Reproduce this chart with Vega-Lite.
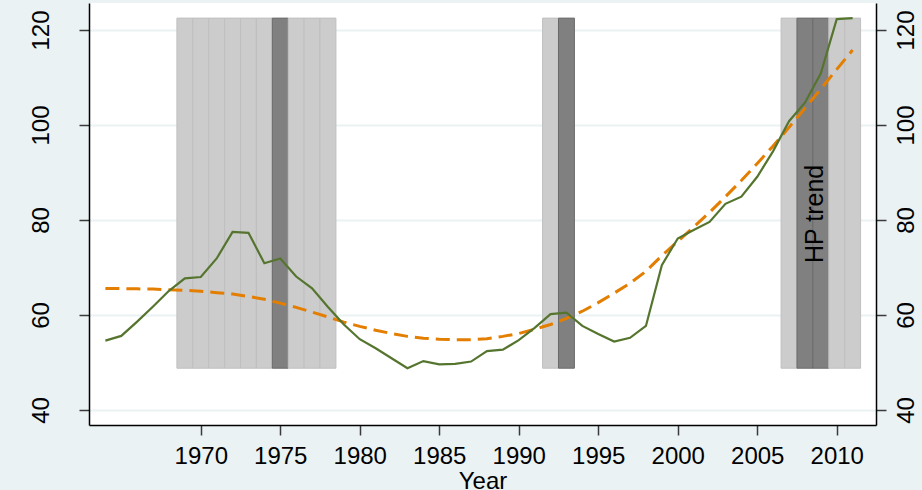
{
  "$schema": "https://vega.github.io/schema/vega-lite/v6.json",
  "width": 787,
  "height": 422,
  "autosize": "none",
  "padding": {"left": 89, "top": 3, "right": 46, "bottom": 65},
  "background": "#eaf2f3",
  "config": {
    "view": {"stroke": null, "fill": "#ffffff"},
    "font": "Liberation Sans",
    "axisX": {
      "format": "d",
      "grid": false, "labelBaseline": "alphabetic", "labelPadding": 28, "tickSize": 10,
      "tickWidth": 1.5, "tickColor": "#3a3a3a", "domainColor": "#000000", "domainWidth": 1.5,
      "labelFontSize": 24, "labelColor": "#000000", "labelFont": "Liberation Sans",
      "titleFontSize": 24, "titleFontWeight": "normal", "titleColor": "#000000", "titleFont": "Liberation Sans",
      "titleBaseline": "alphabetic", "titleY": 63, "titlePadding": 0
    }
  },
  "datasets": {
    "series": [
      {"year": 1964, "actual": 54.6, "trend": 65.6},
      {"year": 1965, "actual": 55.6, "trend": 65.55},
      {"year": 1966, "actual": 58.6, "trend": 65.5},
      {"year": 1967, "actual": 61.8, "trend": 65.45},
      {"year": 1968, "actual": 65.1, "trend": 65.3},
      {"year": 1969, "actual": 67.7, "trend": 65.2},
      {"year": 1970, "actual": 68.0, "trend": 65.0},
      {"year": 1971, "actual": 71.9, "trend": 64.7},
      {"year": 1972, "actual": 77.5, "trend": 64.4},
      {"year": 1973, "actual": 77.3, "trend": 63.9},
      {"year": 1974, "actual": 70.9, "trend": 63.3},
      {"year": 1975, "actual": 71.9, "trend": 62.5},
      {"year": 1976, "actual": 68.1, "trend": 61.6},
      {"year": 1977, "actual": 65.6, "trend": 60.6},
      {"year": 1978, "actual": 61.7, "trend": 59.6},
      {"year": 1979, "actual": 58.0, "trend": 58.5},
      {"year": 1980, "actual": 54.9, "trend": 57.6},
      {"year": 1981, "actual": 53.0, "trend": 56.8},
      {"year": 1982, "actual": 50.9, "trend": 56.1},
      {"year": 1983, "actual": 48.8, "trend": 55.5},
      {"year": 1984, "actual": 50.3, "trend": 55.1},
      {"year": 1985, "actual": 49.6, "trend": 54.9},
      {"year": 1986, "actual": 49.7, "trend": 54.8},
      {"year": 1987, "actual": 50.2, "trend": 54.8},
      {"year": 1988, "actual": 52.4, "trend": 55.0},
      {"year": 1989, "actual": 52.7, "trend": 55.5},
      {"year": 1990, "actual": 54.7, "trend": 56.1},
      {"year": 1991, "actual": 57.3, "trend": 57.0},
      {"year": 1992, "actual": 60.2, "trend": 58.0},
      {"year": 1993, "actual": 60.5, "trend": 59.3},
      {"year": 1994, "actual": 57.7, "trend": 60.8},
      {"year": 1995, "actual": 56.0, "trend": 62.6},
      {"year": 1996, "actual": 54.4, "trend": 64.6},
      {"year": 1997, "actual": 55.2, "trend": 66.7},
      {"year": 1998, "actual": 57.7, "trend": 69.2},
      {"year": 1999, "actual": 70.5, "trend": 72.5},
      {"year": 2000, "actual": 76.1, "trend": 75.5},
      {"year": 2001, "actual": 77.9, "trend": 78.5},
      {"year": 2002, "actual": 79.6, "trend": 81.6},
      {"year": 2003, "actual": 83.4, "trend": 84.9},
      {"year": 2004, "actual": 84.9, "trend": 88.3},
      {"year": 2005, "actual": 89.1, "trend": 91.9},
      {"year": 2006, "actual": 94.5, "trend": 95.6},
      {"year": 2007, "actual": 100.8, "trend": 99.5},
      {"year": 2008, "actual": 104.7, "trend": 103.5},
      {"year": 2009, "actual": 110.9, "trend": 107.6},
      {"year": 2010, "actual": 122.3, "trend": 111.7},
      {"year": 2011, "actual": 122.5, "trend": 115.8}
    ],
    "bands": [
      {"from": 1968.5, "to": 1969.5, "kind": "light"},
      {"from": 1969.5, "to": 1970.5, "kind": "light"},
      {"from": 1970.5, "to": 1971.5, "kind": "light"},
      {"from": 1971.5, "to": 1972.5, "kind": "light"},
      {"from": 1972.5, "to": 1973.5, "kind": "light"},
      {"from": 1973.5, "to": 1974.5, "kind": "light"},
      {"from": 1974.5, "to": 1975.5, "kind": "dark"},
      {"from": 1975.5, "to": 1976.5, "kind": "light"},
      {"from": 1976.5, "to": 1977.5, "kind": "light"},
      {"from": 1977.5, "to": 1978.5, "kind": "light"},
      {"from": 1991.5, "to": 1992.5, "kind": "light"},
      {"from": 1992.5, "to": 1993.5, "kind": "dark"},
      {"from": 2006.5, "to": 2007.5, "kind": "light"},
      {"from": 2007.5, "to": 2008.5, "kind": "dark"},
      {"from": 2008.5, "to": 2009.5, "kind": "dark"},
      {"from": 2009.5, "to": 2010.5, "kind": "light"},
      {"from": 2010.5, "to": 2011.5, "kind": "light"}
    ],
    "notes": [
      {"year": 2009.15, "value": 81.3, "label": "HP trend"}
    ]
  },
  "layer": [
    {
      "data": {"name": "bands"},
      "mark": {"type": "rect", "strokeWidth": 1},
      "encoding": {
        "x": {"field": "from", "type": "quantitative", "scale": {"domain": [1962.97, 2012.47], "nice": false, "zero": false}, "axis": {"title": "Year", "values": [1970, 1975, 1980, 1985, 1990, 1995, 2000, 2005, 2010]}},
        "x2": {"field": "to"},
        "y": {"datum": 48.8, "type": "quantitative", "scale": {"domain": [36.842, 125.684], "nice": false, "zero": false}, "axis": null},
        "y2": {"datum": 122.5},
        "fill": {"field": "kind", "type": "nominal", "scale": {"domain": ["light", "dark"], "range": ["#cccccc", "#808080"]}, "legend": null},
        "stroke": {"field": "kind", "type": "nominal", "scale": {"domain": ["light", "dark"], "range": ["#bfbfbf", "#6a6a6a"]}, "legend": null}
      }
    },
    {
      "data": {"name": "series"},
      "mark": {"type": "line", "color": "#e37e00", "strokeWidth": 3, "strokeDash": [14, 7]},
      "encoding": {
        "x": {"field": "year", "type": "quantitative", "scale": {"domain": [1962.97, 2012.47], "nice": false, "zero": false}, "axis": {"title": "Year", "values": [1970, 1975, 1980, 1985, 1990, 1995, 2000, 2005, 2010]}},
        "y": {
          "field": "trend", "type": "quantitative",
          "scale": {"domain": [36.842, 125.684], "nice": false, "zero": false},
          "axis": {
            "orient": "right", "title": null, "values": [40, 60, 80, 100, 120], "grid": false,
            "labelAngle": 270, "labelAlign": "center", "labelBaseline": "alphabetic",
            "labelPadding": 27, "tickSize": 10, "tickWidth": 1.5, "tickColor": "#3a3a3a",
            "domainColor": "#000000", "domainWidth": 1.5,
            "labelFontSize": 24, "labelColor": "#000000", "labelFont": "Liberation Sans"
          }
        }
      }
    },
    {
      "data": {"name": "series"},
      "mark": {"type": "line", "color": "#55752f", "strokeWidth": 2.2},
      "encoding": {
        "x": {"field": "year", "type": "quantitative", "scale": {"domain": [1962.97, 2012.47], "nice": false, "zero": false}, "axis": {"title": "Year", "values": [1970, 1975, 1980, 1985, 1990, 1995, 2000, 2005, 2010]}},
        "y": {
          "field": "actual", "type": "quantitative",
          "scale": {"domain": [36.842, 125.684], "nice": false, "zero": false},
          "axis": {
            "orient": "left", "title": null, "values": [40, 60, 80, 100, 120], "grid": true,
            "gridColor": "#eaf2f3", "gridWidth": 2,
            "labelAngle": 270, "labelAlign": "center", "labelBaseline": "bottom",
            "labelExpr": "datum.value >= 100 ? [datum.label, ''] : datum.label",
            "labelLineHeight": 20,
            "labelPadding": 26,
            "tickSize": 10, "tickWidth": 1.5, "tickColor": "#3a3a3a",
            "domainColor": "#000000", "domainWidth": 1.5,
            "labelFontSize": 24, "labelColor": "#000000", "labelFont": "Liberation Sans"
          }
        }
      }
    },
    {
      "data": {"name": "notes"},
      "mark": {"type": "text", "angle": 270, "align": "center", "baseline": "alphabetic", "fontSize": 25, "font": "Liberation Sans", "color": "#000000"},
      "encoding": {
        "x": {"field": "year", "type": "quantitative", "scale": {"domain": [1962.97, 2012.47], "nice": false, "zero": false}, "axis": {"title": "Year", "values": [1970, 1975, 1980, 1985, 1990, 1995, 2000, 2005, 2010]}},
        "y": {"field": "value", "type": "quantitative", "scale": {"domain": [36.842, 125.684], "nice": false, "zero": false}, "axis": null},
        "text": {"field": "label"}
      }
    }
  ],
  "resolve": {"axis": {"y": "independent"}}
}
